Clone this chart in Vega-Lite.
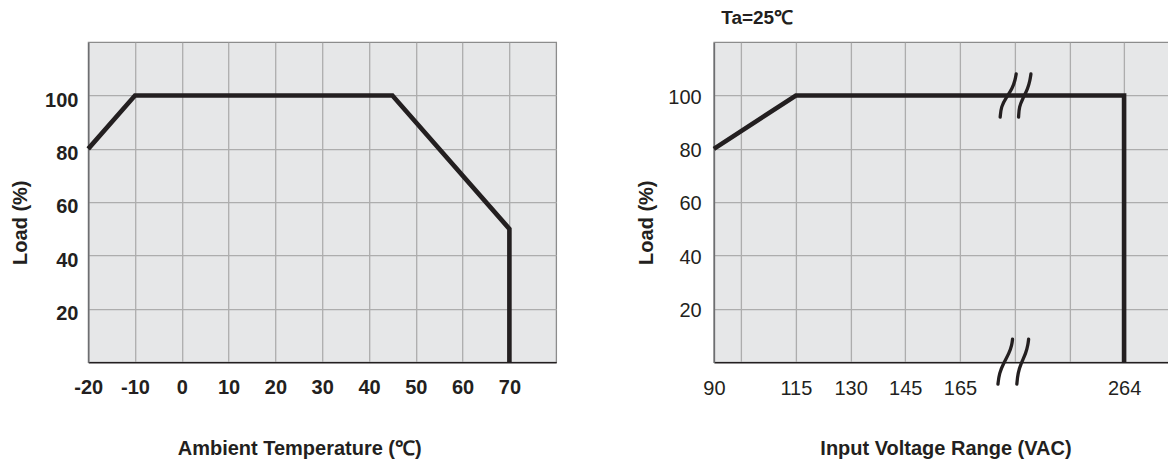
{
  "$schema": "https://vega.github.io/schema/vega-lite/v6.json",
  "background": "white",
  "padding": {"left": 9.2, "top": 8.2, "right": 0, "bottom": 0},
  "spacing": 157.7,
  "bounds": "flush",
  "config": {
    "view": {"fill": "#e6e7e8", "stroke": "#8c8c8c", "strokeWidth": 1.3},
    "font": "Liberation Sans",
    "axis": {
      "gridColor": "#adadad",
      "gridWidth": 1.3,
      "gridOpacity": 1,
      "ticks": false,
      "tickSize": 0,
      "labelColor": "#231f20",
      "titleColor": "#231f20",
      "labelFontSize": 20,
      "titleFontSize": 20,
      "titleFontWeight": "bold",
      "labelFlush": false,
      "labelOverlap": false,
      "labelBound": false,
      "domainWidth": 1.5
    }
  },
  "datasets": {
    "temp": [
      {"i": 1, "temp": -20, "load": 80},
      {"i": 2, "temp": -10, "load": 100},
      {"i": 3, "temp": 45, "load": 100},
      {"i": 4, "temp": 70, "load": 50},
      {"i": 5, "temp": 70, "load": 0}
    ],
    "volt": [
      {"i": 1, "vac": 90, "load": 80},
      {"i": 2, "vac": 115, "load": 100},
      {"i": 3, "vac": 264, "load": 100},
      {"i": 4, "vac": 264, "load": 0}
    ],
    "breaks": [
      {"stroke": "A", "i": 1, "vac": 189.25, "load": 91.9},
      {"stroke": "A", "i": 2, "vac": 189.85, "load": 95.9},
      {"stroke": "A", "i": 3, "vac": 192.7, "load": 99.0},
      {"stroke": "A", "i": 4, "vac": 196.7, "load": 102.7},
      {"stroke": "A", "i": 5, "vac": 198.3, "load": 105.9},
      {"stroke": "A", "i": 6, "vac": 198.9, "load": 108.1},
      {"stroke": "B", "i": 1, "vac": 200.35, "load": 91.9},
      {"stroke": "B", "i": 2, "vac": 200.7, "load": 95.9},
      {"stroke": "B", "i": 3, "vac": 203.0, "load": 99.0},
      {"stroke": "B", "i": 4, "vac": 206.0, "load": 102.7},
      {"stroke": "B", "i": 5, "vac": 207.3, "load": 105.9},
      {"stroke": "B", "i": 6, "vac": 207.8, "load": 108.1},
      {"stroke": "C", "i": 1, "vac": 187.9, "load": -8.25},
      {"stroke": "C", "i": 2, "vac": 188.7, "load": -4.1},
      {"stroke": "C", "i": 3, "vac": 191.3, "load": -0.4},
      {"stroke": "C", "i": 4, "vac": 194.7, "load": 3.4},
      {"stroke": "C", "i": 5, "vac": 196.3, "load": 6.5},
      {"stroke": "C", "i": 6, "vac": 196.7, "load": 8.6},
      {"stroke": "D", "i": 1, "vac": 199.3, "load": -8.25},
      {"stroke": "D", "i": 2, "vac": 199.9, "load": -4.1},
      {"stroke": "D", "i": 3, "vac": 201.9, "load": -0.4},
      {"stroke": "D", "i": 4, "vac": 204.8, "load": 3.4},
      {"stroke": "D", "i": 5, "vac": 206.0, "load": 6.5},
      {"stroke": "D", "i": 6, "vac": 206.4, "load": 8.6}
    ]
  },
  "hconcat": [
    {
      "width": 468,
      "height": 320,
      "data": {"name": "temp"},
      "mark": {"type": "line", "color": "#231f20", "strokeWidth": 4.6, "strokeJoin": "miter", "clip": false},
      "encoding": {
        "x": {
          "field": "temp",
          "type": "quantitative",
          "scale": {"domain": [-20, 80], "nice": false, "zero": false},
          "axis": {
            "values": [-20, -10, 0, 10, 20, 30, 40, 50, 60, 70],
            "labelExpr": "'' + datum.value",
            "title": "Ambient Temperature (℃)",
            "labelFontWeight": "bold",
            "labelBaseline": "alphabetic",
            "labelPadding": 31,
            "titleX": 211,
            "titleY": 92,
            "titleBaseline": "alphabetic",
            "domainColor": "#231f20"
          }
        },
        "y": {
          "field": "load",
          "type": "quantitative",
          "scale": {"domain": [0, 120], "nice": false},
          "axis": {
            "values": [20, 40, 60, 80, 100],
            "title": "Load (%)",
            "labelFontWeight": "bold",
            "labelPadding": 10.3,
            "labelBaseline": "alphabetic",
            "labelOffset": 10.5,
            "titleX": -62,
            "titleY": 180,
            "titleBaseline": "alphabetic",
            "domainColor": "#6d6e71"
          }
        },
        "order": {"field": "i"}
      }
    },
    {
      "width": 455.3,
      "height": 320,
      "title": {
        "text": "Ta=25℃",
        "anchor": "start",
        "frame": "group",
        "fontSize": 19,
        "fontWeight": "bold",
        "baseline": "alphabetic",
        "offset": -1.3,
        "dx": 7.3,
        "color": "#231f20",
        "font": "Liberation Sans"
      },
      "encoding": {
        "x": {
          "field": "vac",
          "type": "quantitative",
          "scale": {
            "type": "linear",
            "domain": [90, 115, 130, 145, 165, 264, 291.7],
            "range": [0, 82, 136.7, 191.4, 246.1, 410.2, 455.3],
            "nice": false,
            "zero": false
          },
          "axis": {
            "values": [90, 98.33, 115, 130, 145, 165, 198, 231, 264],
            "labelExpr": "(datum.value == 98.33 || datum.value == 198 || datum.value == 231) ? '' : datum.label",
            "title": "Input Voltage Range (VAC)",
            "labelBaseline": "alphabetic",
            "labelPadding": 32,
            "titleX": 231.6,
            "titleY": 92.7,
            "titleBaseline": "alphabetic",
            "domainColor": "#231f20"
          }
        },
        "y": {
          "field": "load",
          "type": "quantitative",
          "scale": {"domain": [0, 120], "nice": false},
          "axis": {
            "values": [20, 40, 60, 80, 100],
            "title": "Load (%)",
            "labelPadding": 12.7,
            "labelBaseline": "alphabetic",
            "labelOffset": 7.5,
            "titleX": -61,
            "titleY": 180,
            "titleBaseline": "alphabetic",
            "domainColor": "#6d6e71"
          }
        },
        "order": {"field": "i"}
      },
      "layer": [
        {
          "data": {"name": "volt"},
          "mark": {"type": "line", "color": "#231f20", "strokeWidth": 4.6, "strokeJoin": "miter", "clip": false}
        },
        {
          "data": {"name": "breaks"},
          "mark": {"type": "line", "color": "#231f20", "strokeWidth": 3.3, "interpolate": "basis", "strokeCap": "round", "clip": false},
          "encoding": {"detail": {"field": "stroke"}}
        }
      ]
    }
  ]
}
